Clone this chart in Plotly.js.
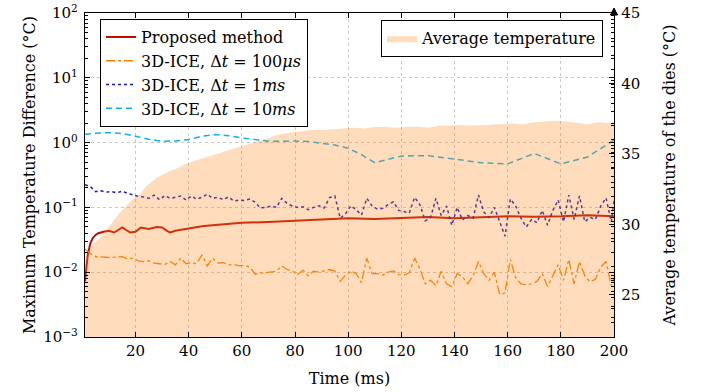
<!DOCTYPE html>
<html>
<head>
<meta charset="utf-8">
<script src="https://cdn.plot.ly/plotly-3.0.1.min.js"></script>
<style>html,body{margin:0;padding:0;background:#fff;}#chart{width:702px;height:392px;}</style>
</head>
<body>
<div id="chart"></div>
<script>
// ---- data ----
const tRed = [1,2,3,4,5,6,8,10,12,15,18,20,22,25,28,30,32,33,35,40,45,50,55,60,70,80,90,100,110,120,130,140,150,160,170,180,190,200];
const proposed = [0.0072,0.018,0.028,0.034,0.0376,0.040,0.042,0.0437,0.041,0.049,0.041,0.042,0.049,0.0465,0.050,0.049,0.043,0.041,0.0437,0.0476,0.051,0.0536,0.056,0.058,0.0595,0.0617,0.0655,0.068,0.066,0.068,0.071,0.068,0.071,0.0727,0.072,0.0727,0.0755,0.0727];

const tFine = [1,3,5,7,9,11,13,15,17,19,21,23,25,27,29,31,33,35,37,39,41,43,45,47,49,51,53,55,57,59,61,63,65,67,69,71,73,75,77,79,81,83,85,87,89,91,93,95,97,99,101,103,105,107,109,111,113,115,117,119,121,123,125,127,129,131,133,135,137,139,141,143,145,147,149,151,153,155,157,159,161,163,165,167,169,171,173,175,177,179,181,183,185,187,189,191,193,195,197,199,200];

const ice100us = [0.0226,0.0194,0.0174,0.0172,0.0170,0.0168,0.0172,0.0174,0.0160,0.0165,0.0150,0.0146,0.0150,0.0138,0.0135,0.0131,0.0146,0.0130,0.0165,0.0135,0.0140,0.0135,0.0185,0.0125,0.0165,0.0138,0.0140,0.0130,0.0132,0.0125,0.0128,0.0120,0.0093,0.0097,0.0098,0.0100,0.0104,0.0125,0.0110,0.0104,0.0092,0.0107,0.0088,0.0104,0.0100,0.0105,0.0110,0.0104,0.0072,0.0090,0.0104,0.0095,0.0069,0.0165,0.0095,0.0095,0.0090,0.0100,0.0105,0.0092,0.0090,0.0098,0.0165,0.0112,0.0066,0.0075,0.0062,0.0104,0.0066,0.0060,0.0095,0.0085,0.0066,0.0088,0.0146,0.0095,0.0075,0.0100,0.0045,0.0048,0.0158,0.0082,0.0066,0.0064,0.0066,0.0072,0.0095,0.0060,0.0088,0.0131,0.0075,0.0158,0.0066,0.0146,0.0088,0.0071,0.0078,0.0120,0.0146,0.0062,0.0082];

const ice1ms = [0.224,0.210,0.175,0.180,0.172,0.175,0.168,0.178,0.165,0.155,0.148,0.145,0.138,0.155,0.132,0.152,0.138,0.143,0.150,0.130,0.150,0.134,0.143,0.160,0.138,0.143,0.132,0.145,0.125,0.130,0.128,0.135,0.120,0.098,0.100,0.105,0.100,0.138,0.115,0.105,0.100,0.102,0.092,0.100,0.106,0.098,0.142,0.150,0.068,0.080,0.106,0.092,0.076,0.138,0.105,0.094,0.097,0.110,0.122,0.090,0.087,0.082,0.143,0.110,0.062,0.070,0.138,0.075,0.105,0.053,0.100,0.064,0.075,0.068,0.155,0.085,0.070,0.100,0.060,0.036,0.135,0.105,0.068,0.050,0.065,0.058,0.090,0.053,0.090,0.130,0.060,0.155,0.065,0.150,0.060,0.070,0.065,0.105,0.140,0.060,0.128];

const tCyan = [1,5,10,15,20,25,30,35,40,45,50,55,60,65,70,75,80,85,90,95,100,105,110,120,130,140,150,160,170,180,190,200];
const ice10ms = [1.34,1.40,1.42,1.38,1.25,1.13,1.05,1.06,1.12,1.25,1.33,1.28,1.18,1.10,1.05,1.05,1.06,1.04,0.99,0.92,0.82,0.65,0.49,0.62,0.63,0.55,0.49,0.47,0.68,0.47,0.60,1.09];

const tTemp = [1,2,4,6,8,10,12,14,16,18,20,22,24,26,28,30,33,36,39,42,45,48,51,54,57,60,63,66,70,74,78,82,86,90,94,98,102,106,110,114,118,122,126,130,134,138,142,146,150,154,158,162,166,170,174,178,182,186,190,194,198,200];
const avgTemp = [27.6,28.0,28.6,28.9,29.4,29.8,30.3,30.8,31.2,31.6,32.0,32.2,32.7,33.0,33.3,33.5,33.8,34.0,34.3,34.5,34.7,34.85,35.0,35.2,35.4,35.55,35.7,35.9,36.1,36.4,36.5,36.6,36.7,36.7,36.75,36.8,36.85,36.8,36.9,36.9,36.85,36.9,36.95,36.85,37.0,37.0,37.05,37.0,37.05,37.1,37.1,37.15,37.1,37.25,37.3,37.35,37.3,37.2,37.1,37.25,37.2,37.25];

const xTicks = [20,40,60,80,100,120,140,160,180,200];
const yTicks = [0.001,0.01,0.1,1,10,100];
const yTickText = ['10<sup>−3</sup>','10<sup>−2</sup>','10<sup>−1</sup>','10<sup>0</sup>','10<sup>1</sup>','10<sup>2</sup>'];
const y2Ticks = [25,30,35,40,45];

// minor tick positions for the log axis (2..9 per decade)
const yMinor = [];
for (let e = -3; e < 2; e++) for (let m = 2; m <= 9; m++) yMinor.push(m * Math.pow(10, e));

const FONT = "'DejaVu Serif', serif";

const traces = [
  {x: tRed, y: proposed, type: 'scatter', mode: 'lines', name: 'Proposed method',
   line: {color: 'rgb(190,12,0)', width: 2}, legend: 'legend'},
  {x: tFine, y: ice100us, type: 'scatter', mode: 'lines', name: '3D-ICE, Δ<i>t</i> = 100<i>μs</i>',
   line: {color: 'rgb(255,125,0)', width: 1.3, dash: 'dashdot'}, legend: 'legend'},
  {x: tFine, y: ice1ms, type: 'scatter', mode: 'lines', name: '3D-ICE, Δ<i>t</i> = 1<i>ms</i>',
   line: {color: 'rgb(25,20,190)', width: 1.5, dash: 'dot'}, legend: 'legend'},
  {x: tCyan, y: ice10ms, type: 'scatter', mode: 'lines', name: '3D-ICE, Δ<i>t</i> = 10<i>ms</i>',
   line: {color: 'rgb(10,178,240)', width: 1.5, dash: '6px,4px'}, legend: 'legend'},
  {x: tTemp, y: avgTemp, type: 'scatter', mode: 'lines', name: 'Average temperature',
   yaxis: 'y2', fill: 'tozeroy', fillcolor: 'rgba(255,140,30,0.3)',
   line: {width: 0, color: 'rgba(255,140,30,0.3)'}, legend: 'legend2'}
];

const layout = {
  width: 702, height: 392,
  margin: {l: 85, r: 88, t: 13, b: 55},
  paper_bgcolor: '#fff', plot_bgcolor: '#fff',
  font: {family: FONT, size: 15, color: '#000'},
  showlegend: true,
  xaxis: {
    range: [1, 200], tickvals: xTicks, ticks: 'inside', ticklen: 5, tickcolor: '#000',
    showline: true, linecolor: '#000', linewidth: 1.2, mirror: 'ticks',
    showgrid: true, gridcolor: '#c8c8c8', griddash: 'dot', gridwidth: 1, zeroline: false,
    tickfont: {family: FONT, size: 15},
    title: {text: 'Time (ms)', font: {family: FONT, size: 16}, standoff: 13}
  },
  yaxis: {
    type: 'log', range: [-3, 2], tickmode: 'array', tickvals: yTicks, ticktext: yTickText,
    ticks: 'inside', ticklen: 5, tickcolor: '#000', ticklabelstandoff: 3,
    minor: {tickmode: 'array', tickvals: yMinor, ticks: 'inside', ticklen: 3, tickcolor: '#000', showgrid: false},
    showline: true, linecolor: '#000', linewidth: 1.2, mirror: 'ticks',
    showgrid: true, gridcolor: '#c8c8c8', griddash: 'dot', gridwidth: 1, zeroline: false,
    tickfont: {family: FONT, size: 15},
    title: {text: 'Maximum Temperature Difference (°C)', font: {family: FONT, size: 16}, standoff: 3}
  },
  yaxis2: {
    overlaying: 'y', side: 'right', range: [22, 45], tickvals: y2Ticks,
    ticks: 'inside', ticklen: 5, tickcolor: '#000', ticklabelstandoff: 3,
    minor: {dtick: 1, ticks: 'inside', ticklen: 3, tickcolor: '#000', showgrid: false},
    showline: true, linecolor: '#000', linewidth: 1.2, showgrid: false, zeroline: false,
    tickfont: {family: FONT, size: 15},
    title: {text: 'Average temperature of the dies (°C)', font: {family: FONT, size: 16}, standoff: 24}
  },
  legend: {
    x: 0.028, y: 0.982, xanchor: 'left', yanchor: 'top',
    bgcolor: '#fff', bordercolor: '#000', borderwidth: 1.2,
    font: {family: FONT, size: 16}, itemwidth: 30, tracegroupgap: 0
  },
  legend2: {
    x: 0.979, y: 0.978, xanchor: 'right', yanchor: 'top',
    bgcolor: '#fff', bordercolor: '#000', borderwidth: 1.2,
    font: {family: FONT, size: 16}, itemwidth: 30
  },
  shapes: [{
    type: 'path', xref: 'paper', yref: 'paper', xsizemode: 'pixel', ysizemode: 'pixel',
    xanchor: 1, yanchor: 1, path: 'M -3.5 -2 L 0 5 L 3.5 -2 Z',
    line: {color: '#000', width: 1}, fillcolor: '#000'
  }]
};

Plotly.newPlot('chart', traces, layout, {displayModeBar: false, staticPlot: true});
</script>
</body>
</html>
